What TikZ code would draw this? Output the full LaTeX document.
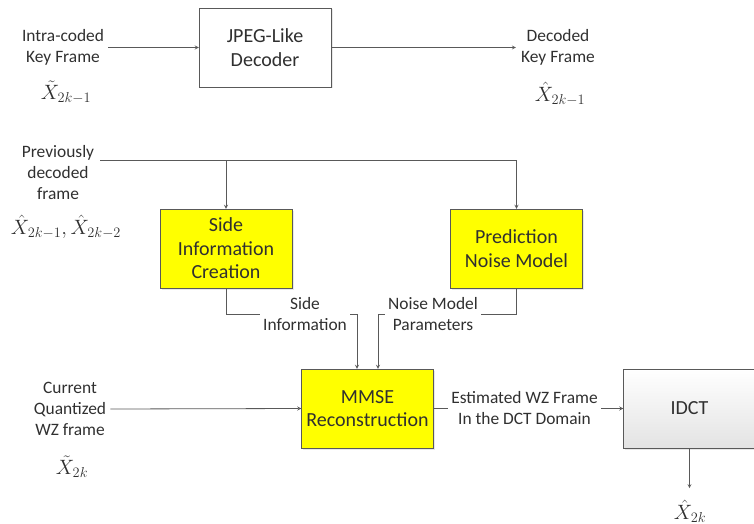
\documentclass[tikz,border=0pt]{standalone}
\usepackage{amsmath}
\usepackage{fontspec}
\setmainfont{Carlito}
\usetikzlibrary{shadows, positioning}
\definecolor{linegray}{HTML}{595959}
\definecolor{textgray}{HTML}{303030}
\definecolor{boxyellow}{HTML}{FFFF00}

\begin{document}
\begin{tikzpicture}[>=stealth, x=1pt, y=-1pt, font=\fontsize{17.4}{21}\selectfont, text=textgray,
    block/.style={draw=linegray, minimum width=132pt, minimum height=79pt, align=center,
                  font=\fontsize{20}{23.5}\selectfont,
                  drop shadow={shadow xshift=1.5pt, shadow yshift=-1.5pt, fill=gray!35}},
    yblock/.style={block, fill=boxyellow},
    lbl/.style={align=center, inner sep=1pt},
    wlbl/.style={lbl, fill=white, inner xsep=3pt},
    sym/.style={font=\fontsize{22}{22}\selectfont, inner sep=0pt},
    conn/.style={draw=linegray, line width=0.8pt}]

            \useasboundingbox (0,0) rectangle (754,524);

            % key frame path
            \node[block, fill=white] (jpeg) at (265,47.5) {JPEG-Like\\Decoder};
            \node[lbl] (intra) at (63,47.5) {Intra-coded\\Key Frame};
            \node[sym] (xkin) at (66,92) {$\tilde{X}_{2k-1}$};
            \node[lbl] (dec) at (558,47.5) {Decoded\\Key Frame};
            \node[sym] (xkout) at (560,94) {$\hat{X}_{2k-1}$};

            \draw[conn, ->] (intra.east) ++(3,0) coordinate (kin) -- (jpeg.west);
            \draw[conn, ->] (jpeg.east) -- ([xshift=-4pt]dec.west);

            % side information and noise model
            \node[yblock] (sic) at (226,248.5) {Side\\Information\\Creation};
            \node[yblock] (pnm) at (516.5,248.5) {Prediction\\Noise Model};
            \node[lbl] (prev) at (58,173) {Previously\\decoded\\frame};
            \node[sym] (xprev) at (66,227) {$\hat{X}_{2k-1},\hat{X}_{2k-2}$};

            \coordinate (pin) at (100,160);
            \draw[conn, ->] (pin) -| (pnm.north);
            \draw[conn, ->] (pin -| sic.north) -- (sic.north);

            % reconstruction
            \node[yblock] (mmse) at (367.5,408.5) {MMSE\\Reconstruction};
            \node[block, top color=white, bottom color=gray!22] (idct) at (689.5,408.5) {IDCT};
            \node[lbl] (cur) at (70,409) {Current\\Quantized\\WZ frame};
            \node[sym] (xwz) at (72,467) {$\tilde{X}_{2k}$};
            \node[sym] (xout) at (690,511) {$\hat{X}_{2k}$};

            \coordinate (sij) at (357,314);
            \coordinate (nmj) at (378,314);
            \draw[conn, ->] (sic.south) |- (sij) -- (sij |- mmse.north);
            \draw[conn, ->] (pnm.south) |- (nmj) -- (nmj |- mmse.north);
            \node[wlbl] (silbl) at (305,314) {Side\\Information};
            \node[wlbl] (nmlbl) at (433,314) {Noise Model\\Parameters};

            \draw[conn, ->] ([xshift=3pt]cur.east) -- (mmse.west);
            \draw[conn, ->] (mmse.east) -- (idct.west)
                node[wlbl, midway, xshift=-4pt] (estlbl) {Estimated WZ Frame\\In the DCT Domain};
            \draw[conn, ->] (idct.south) -- ++(0,40) coordinate (outend);

        \end{tikzpicture}
\end{document}
